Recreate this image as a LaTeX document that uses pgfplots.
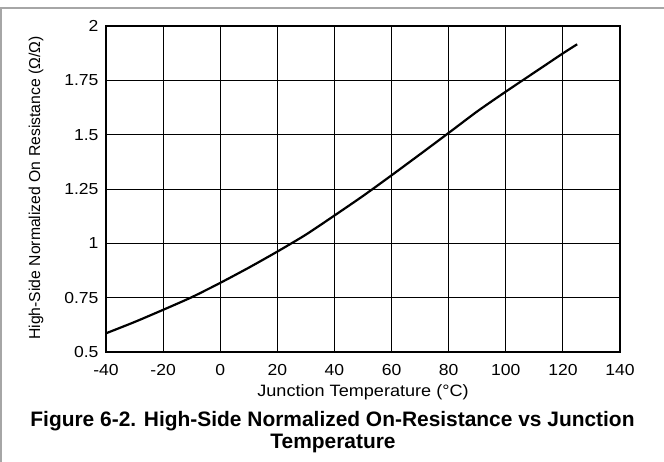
\documentclass[border=0pt]{standalone}
\usepackage{fontspec}
\setmainfont{Liberation Sans}
\newfontfamily\widesans[FakeStretch=1.1]{Liberation Sans}
\usepackage{pgfplots}
\pgfplotsset{compat=1.18}

\begin{document}
\begin{tikzpicture}
\path[use as bounding box] (0,0) rectangle (664bp,462bp);
% thin gray frame of the page
\draw[gray!70, line width=1.2bp] (0,454bp) -- (664bp,454bp);
\draw[gray!70, line width=1.2bp] (1bp,0) -- (1bp,454bp);

\begin{axis}[
    at={(106bp,110bp)}, anchor=south west,
    width=514bp, height=326bp, scale only axis,
    xmin=-40, xmax=140,
    ymin=0.5, ymax=2,
    xtick={-40,-20,...,140},
    ytick={0.5,0.75,1,1.25,1.5,1.75,2},
    major tick length=0pt,
    grid=major,
    major grid style={black, line width=0.9bp},
    axis line style={line width=2.4bp},
    /pgf/number format/assume math mode=true,
    ticklabel style={font=\widesans\fontsize{16}{19}\selectfont},
    xticklabel style={yshift=-9bp},
    yticklabel style={xshift=-4bp},
]
\addplot[black, line width=2.2bp, smooth, tension=0.4] coordinates {
    (-40,0.586) (-30,0.638) (-20,0.694) (-10,0.752) (0,0.818)
    (10,0.888) (20,0.962) (30,1.040) (40,1.128) (50,1.218)
    (60,1.313) (70,1.410) (80,1.508) (90,1.607) (100,1.698)
    (110,1.786) (120,1.874) (125,1.916)
};
\end{axis}

\node[rotate=90, anchor=base, font=\fontsize{15.8}{18}\selectfont]
    at (40bp,274bp) {High-Side Normalized On Resistance (Ω/Ω)};
\node[anchor=base, font=\widesans\fontsize{16.5}{19}\selectfont]
    at (363bp,65.3bp) {Junction Temperature (°C)};
\node[anchor=base, font=\bfseries\fontsize{21}{24}\selectfont]
    at (332.5bp,36bp) {Figure 6-2. High-Side Normalized On-Resistance vs Junction};
\node[anchor=base, font=\bfseries\fontsize{21}{24}\selectfont]
    at (333bp,14bp) {Temperature};
\end{tikzpicture}
\end{document}
